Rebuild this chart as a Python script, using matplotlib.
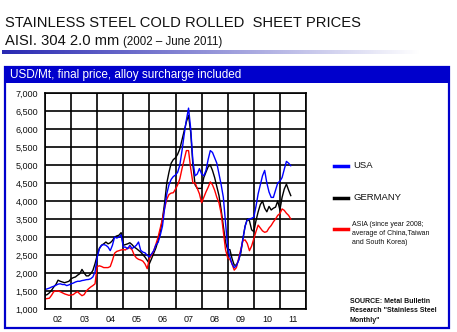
import numpy as np
import matplotlib
matplotlib.use('Agg')
import matplotlib.pyplot as plt
from matplotlib.patches import Rectangle
from matplotlib.lines import Line2D

plt.rcParams['font.family'] = ['Liberation Sans', 'DejaVu Sans']

# ── Data: monthly prices, Jan 2002 .. Jun 2011 (USD/t) ────────────────────────
usa = [
    1540, 1560, 1580, 1610, 1630, 1660, 1690, 1700, 1680, 1680, 1650, 1670,
    1700, 1720, 1750, 1770, 1770, 1790, 1800, 1815, 1820, 1840, 1890, 2030,
    2440, 2670, 2770, 2790, 2770, 2720, 2620, 2770, 3000, 2970, 3000, 3060,
    2720, 2720, 2670, 2770, 2680, 2720, 2770, 2860, 2630, 2580, 2560, 2490,
    2450, 2530, 2620, 2780, 2850, 3050, 3300, 3800, 4200, 4450, 4600, 4680,
    4720, 4800, 5000, 5400, 5850, 6250, 6580, 6000, 5100, 4700, 4750, 4900,
    4750, 4700, 4850, 5150, 5400, 5350, 5200, 5050, 4750, 4450, 4100, 3400,
    2700, 2450, 2250, 2150, 2200, 2350, 2600, 2950, 3300, 3480, 3500, 3520,
    3550, 3850, 4200, 4450, 4700, 4850, 4500, 4250, 4100, 4100, 4300, 4500,
    4550, 4650, 4880, 5100, 5050, 4980,
]
germany = [
    1380, 1400, 1450, 1520, 1610, 1680, 1800, 1770, 1750, 1730, 1750, 1770,
    1840, 1870, 1890, 1940, 1980, 2100, 2000, 1920, 1920, 1980, 2070, 2260,
    2490, 2690, 2770, 2810, 2860, 2810, 2840, 2900, 3000, 3030, 3050, 3120,
    2770, 2790, 2810, 2840, 2790, 2720, 2680, 2630, 2580, 2510, 2440, 2350,
    2260, 2400, 2550, 2700, 2900, 3150, 3500, 3950, 4500, 4800, 5050, 5150,
    5200, 5300, 5450, 5700, 5950, 6200, 6380, 5900, 5000, 4450, 4350, 4350,
    4350, 4650, 4800, 4950, 5000, 4850, 4650, 4400, 4150, 3750, 3300, 2850,
    2650, 2650, 2400, 2220, 2220, 2350, 2550, 2950, 3300, 3500, 3450, 3200,
    3150, 3450, 3700, 3900, 4000, 3800, 3700, 3850, 3750, 3800, 3830, 4000,
    3750, 4100, 4330, 4470, 4300, 4150,
]
asia = [
    1280, 1290, 1300, 1380, 1480, 1500, 1500, 1480, 1450, 1420, 1400, 1380,
    1390, 1400, 1450, 1480, 1420, 1370, 1400, 1500, 1560, 1610, 1650, 1700,
    2180, 2200, 2180, 2150, 2150, 2150, 2180, 2350, 2550, 2600, 2620, 2640,
    2650, 2640, 2700, 2700, 2650, 2500, 2420, 2380, 2360, 2330, 2250, 2120,
    2400, 2500, 2620, 2800, 3000, 3250, 3500, 3800, 4050, 4180, 4220, 4230,
    4330, 4450, 4620, 4900, 5150, 5400, 5400, 4900, 4500, 4500, 4350, 4200,
    3950, 4100, 4250, 4380, 4530, 4450, 4300, 4100, 3950, 3650, 3150, 2650,
    2420, 2380, 2250, 2080, 2150, 2400, 2650, 2900, 2920, 2820, 2620, 2750,
    2950, 3150, 3330, 3250, 3170, 3130, 3150, 3250, 3320, 3420, 3500, 3600,
    3650, 3780, 3740, 3660, 3600, 3500,
]
years = ['02', '03', '04', '05', '06', '07', '08', '09', '10', '11']
y_ticks = list(range(1000, 7001, 500))

dates = 2002 + np.arange(len(usa)) / 12.0

# ── Figure & frame ────────────────────────────────────────────────────────────
W, H = 457, 332
fig = plt.figure(figsize=(W / 100, H / 100), dpi=100)
fig.patch.set_facecolor('white')

def fx(x):
    return x / W

def fy(y):
    return 1 - y / H

BLUE = '#0000CC'
INK = '#111111'

fig.text(fx(5), fy(27), 'STAINLESS STEEL COLD ROLLED  SHEET PRICES',
         fontsize=10.6, color=INK, va='baseline')
t_main = fig.text(fx(5), fy(45), 'AISI. 304 2.0 mm ', fontsize=10.6,
                  color=INK, va='baseline')
# put the date range right after the bigger text
fig.canvas.draw()
bb = t_main.get_window_extent(renderer=fig.canvas.get_renderer())
fig.text(bb.x1 / W, fy(45), '(2002 \u2013 June 2011)', fontsize=8.3,
         color=INK, va='baseline')

# gradient strip under the title
gax = fig.add_axes([fx(2), fy(54), fx(418), 4 / H])
grad = np.linspace(0, 1, 256)
c0 = np.array([0.16, 0.16, 0.70])
rgb = c0[None, :] * (1 - grad[:, None]) + grad[:, None]
gax.imshow(rgb[None, :, :], aspect='auto', extent=[0, 1, 0, 1])
gax.axis('off')

# blue frame + header band
fig.patches.append(Rectangle((fx(5), fy(328)), fx(444), (328 - 67) / H,
                             transform=fig.transFigure, fill=False,
                             edgecolor=BLUE, lw=1.6))
fig.patches.append(Rectangle((fx(4), fy(83)), fx(446), 17 / H,
                             transform=fig.transFigure, facecolor=BLUE,
                             edgecolor='none'))
fig.text(fx(10), fy(75), 'USD/Mt, final price, alloy surcharge included',
         fontsize=8.5, color='white', va='center')

# ── Chart ─────────────────────────────────────────────────────────────────────
ax = fig.add_axes([fx(45), fy(309), fx(261), 216 / H])
ax.plot(dates, germany, color='black', lw=1.0)
ax.plot(dates, asia, color='#FF0000', lw=1.0)
ax.plot(dates, usa, color='#0000FF', lw=1.0)

ax.set_xlim(2002, 2012)
ax.set_ylim(1000, 7000)
ax.set_yticks(y_ticks)
ax.set_yticklabels([f'{v:,}' for v in y_ticks])
ax.set_xticks(np.arange(2002, 2013))
ax.set_xticklabels([])
ax.set_xticks(np.arange(2002.5, 2012), minor=True)
ax.set_xticklabels(years, minor=True)
ax.tick_params(axis='both', which='both', length=0, labelsize=6.5, colors=INK)
ax.tick_params(axis='y', pad=5)
ax.tick_params(axis='x', which='minor', pad=4)
ax.grid(True, which='major', color='black', lw=1.2)
for sp in ax.spines.values():
    sp.set_color('black')
    sp.set_linewidth(1.2)

# ── Legend (drawn by hand on the right side) ──────────────────────────────────
legend_items = [
    ('USA', '#0000FF', 166),
    ('GERMANY', 'black', 198),
]
for label, col, ypix in legend_items:
    fig.lines.append(Line2D([fx(334), fx(348)], [fy(ypix), fy(ypix)],
                            transform=fig.transFigure, color=col, lw=2.5))
    fig.text(fx(353), fy(ypix), label, fontsize=6.8, va='center', color=INK)

fig.lines.append(Line2D([fx(334), fx(348)], [fy(229), fy(229)],
                        transform=fig.transFigure, color='#FF0000', lw=2.5))
fig.text(fx(352), fy(221), 'ASIA (since year 2008;\naverage of China,Taiwan\nand South Korea)',
         fontsize=5, va='top', color=INK, linespacing=1.45)

fig.text(fx(350), fy(298), 'SOURCE: Metal Bulletin\nResearch "Stainless Steel\nMonthly"',
         fontsize=5, va='top', color=INK, fontweight='bold', linespacing=1.45)

fig.savefig('out.png', dpi=100, facecolor='white')
